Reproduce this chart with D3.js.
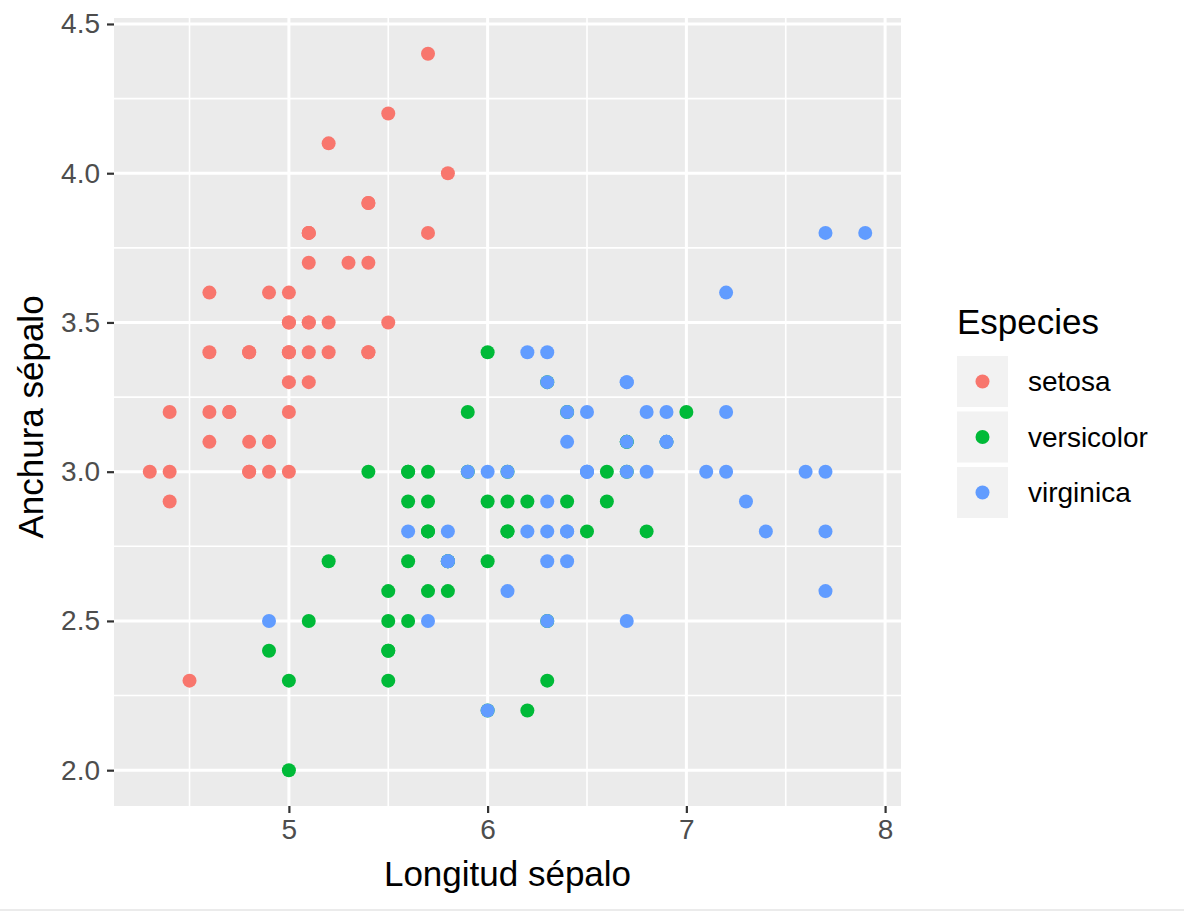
<!DOCTYPE html>
<html>
<head>
<meta charset="utf-8">
<script src="https://cdn.jsdelivr.net/npm/d3@7"></script>
<style>
  html, body { margin: 0; padding: 0; background: #ffffff; }
  svg { display: block; font-family: "Liberation Sans", Arial, Helvetica, sans-serif; }
</style>
</head>
<body>
<svg id="chart" width="1184" height="911"></svg>
<script>
// ---- Data (iris: Sepal.Length, Sepal.Width) ----
const speciesNames = ["setosa", "versicolor", "virginica"];
const speciesColors = ["#F8766D", "#00BA38", "#619CFF"];

const setosaLength = [5.1,4.9,4.7,4.6,5.0,5.4,4.6,5.0,4.4,4.9,5.4,4.8,4.8,4.3,5.8,5.7,5.4,5.1,5.7,5.1,5.4,5.1,4.6,5.1,4.8,5.0,5.0,5.2,5.2,4.7,4.8,5.4,5.2,5.5,4.9,5.0,5.5,4.9,4.4,5.1,5.0,4.5,4.4,5.0,5.1,4.8,5.1,4.6,5.3,5.0];
const setosaWidth  = [3.5,3.0,3.2,3.1,3.6,3.9,3.4,3.4,2.9,3.1,3.7,3.4,3.0,3.0,4.0,4.4,3.9,3.5,3.8,3.8,3.4,3.7,3.6,3.3,3.4,3.0,3.4,3.5,3.4,3.2,3.1,3.4,4.1,4.2,3.1,3.2,3.5,3.6,3.0,3.4,3.5,2.3,3.2,3.5,3.8,3.0,3.8,3.2,3.7,3.3];

const versicolorLength = [7.0,6.4,6.9,5.5,6.5,5.7,6.3,4.9,6.6,5.2,5.0,5.9,6.0,6.1,5.6,6.7,5.6,5.8,6.2,5.6,5.9,6.1,6.3,6.1,6.4,6.6,6.8,6.7,6.0,5.7,5.5,5.5,5.8,6.0,5.4,6.0,6.7,6.3,5.6,5.5,5.5,6.1,5.8,5.0,5.6,5.7,5.7,6.2,5.1,5.7];
const versicolorWidth  = [3.2,3.2,3.1,2.3,2.8,2.8,3.3,2.4,2.9,2.7,2.0,3.0,2.2,2.9,2.9,3.1,3.0,2.7,2.2,2.5,3.2,2.8,2.5,2.8,2.9,3.0,2.8,3.0,2.9,2.6,2.4,2.4,2.7,2.7,3.0,3.4,3.1,2.3,3.0,2.5,2.6,3.0,2.6,2.3,2.7,3.0,2.9,2.9,2.5,2.8];

const virginicaLength = [6.3,5.8,7.1,6.3,6.5,7.6,4.9,7.3,6.7,7.2,6.5,6.4,6.8,5.7,5.8,6.4,6.5,7.7,7.7,6.0,6.9,5.6,7.7,6.3,6.7,7.2,6.2,6.1,6.4,7.2,7.4,7.9,6.4,6.3,6.1,7.7,6.3,6.4,6.0,6.9,6.7,6.9,5.8,6.8,6.7,6.7,6.3,6.5,6.2,5.9];
const virginicaWidth  = [3.3,2.7,3.0,2.9,3.0,3.0,2.5,2.9,2.5,3.6,3.2,2.7,3.0,2.5,2.8,3.2,3.0,3.8,2.6,2.2,3.2,2.8,2.8,2.7,3.3,3.2,2.8,3.0,2.8,3.0,2.8,3.8,2.8,2.8,2.6,3.0,3.4,3.1,3.0,3.1,3.1,3.1,2.7,3.2,3.3,3.0,2.5,3.0,3.4,3.0];

const xTicks = [5, 6, 7, 8];
const yTicks = [2.0, 2.5, 3.0, 3.5, 4.0, 4.5];
const xMinor = [4.5, 5.5, 6.5, 7.5];
const yMinor = [2.25, 2.75, 3.25, 3.75, 4.25];

const xTitle = "Longitud sépalo";
const yTitle = "Anchura sépalo";
const legendTitle = "Especies";

// ---- Build records ----
const lengths = [setosaLength, versicolorLength, virginicaLength];
const widths = [setosaWidth, versicolorWidth, virginicaWidth];
const points = [];
speciesNames.forEach((s, i) => {
  lengths[i].forEach((v, j) => points.push({ x: v, y: widths[i][j], s: i }));
});

// ---- Layout ----
const panel = { left: 114, right: 901, top: 18, bottom: 806 };
const svg = d3.select("#chart");

const xMin = d3.min(points, d => d.x), xMax = d3.max(points, d => d.x);
const yMin = d3.min(points, d => d.y), yMax = d3.max(points, d => d.y);
const xPad = (xMax - xMin) * 0.05, yPad = (yMax - yMin) * 0.05;

const x = d3.scaleLinear().domain([xMin - xPad, xMax + xPad]).range([panel.left, panel.right]);
const y = d3.scaleLinear().domain([yMin - yPad, yMax + yPad]).range([panel.bottom, panel.top]);

// Panel background
svg.append("rect")
  .attr("x", panel.left).attr("y", panel.top)
  .attr("width", panel.right - panel.left).attr("height", panel.bottom - panel.top)
  .attr("fill", "#EBEBEB");

const grid = svg.append("g");
// minor grid
grid.selectAll(".xmin").data(xMinor).join("line")
  .attr("x1", d => x(d)).attr("x2", d => x(d))
  .attr("y1", panel.top).attr("y2", panel.bottom)
  .attr("stroke", "#fff").attr("stroke-width", 1.6);
grid.selectAll(".ymin").data(yMinor).join("line")
  .attr("y1", d => y(d)).attr("y2", d => y(d))
  .attr("x1", panel.left).attr("x2", panel.right)
  .attr("stroke", "#fff").attr("stroke-width", 1.6);
// major grid
grid.selectAll(".xmaj").data(xTicks).join("line")
  .attr("x1", d => x(d)).attr("x2", d => x(d))
  .attr("y1", panel.top).attr("y2", panel.bottom)
  .attr("stroke", "#fff").attr("stroke-width", 3);
grid.selectAll(".ymaj").data(yTicks).join("line")
  .attr("y1", d => y(d)).attr("y2", d => y(d))
  .attr("x1", panel.left).attr("x2", panel.right)
  .attr("stroke", "#fff").attr("stroke-width", 3);

// Points
svg.append("g").selectAll("circle").data(points).join("circle")
  .attr("cx", d => x(d.x)).attr("cy", d => y(d.y)).attr("r", 7)
  .attr("fill", d => speciesColors[d.s]);

// Axes
const xAxis = svg.append("g")
  .attr("transform", `translate(0,${panel.bottom})`)
  .call(d3.axisBottom(x).tickValues(xTicks).tickSize(7).tickPadding(6).tickFormat(d3.format("d")));
const yAxis = svg.append("g")
  .attr("transform", `translate(${panel.left},0)`)
  .call(d3.axisLeft(y).tickValues(yTicks).tickSize(7).tickPadding(7).tickFormat(d3.format(".1f")));
[xAxis, yAxis].forEach(a => {
  a.select(".domain").remove();
  a.selectAll(".tick line").attr("stroke", "#333333").attr("stroke-width", 2.2);
  a.selectAll(".tick text").attr("fill", "#4D4D4D").attr("font-size", 28)
    .attr("font-family", "'Liberation Sans', Arial, sans-serif");
});

// Axis titles
svg.append("text")
  .attr("x", (panel.left + panel.right) / 2).attr("y", 886)
  .attr("text-anchor", "middle").attr("font-size", 35).attr("fill", "#000")
  .text(xTitle);
svg.append("text")
  .attr("transform", `translate(43,${(panel.top + panel.bottom) / 2 + 5}) rotate(-90)`)
  .attr("text-anchor", "middle").attr("font-size", 35).attr("fill", "#000")
  .text(yTitle);

// Legend
const legend = svg.append("g");
legend.append("text").attr("x", 957).attr("y", 334)
  .attr("font-size", 35).attr("fill", "#000").text(legendTitle);
const keys = legend.selectAll(".key").data(speciesNames).join("g")
  .attr("transform", (d, i) => `translate(957,${356 + i * 55.5})`);
keys.append("rect").attr("width", 51).attr("height", 51).attr("fill", "#F2F2F2");
keys.append("circle").attr("cx", 25.5).attr("cy", 25.5).attr("r", 7)
  .attr("fill", (d, i) => speciesColors[i]);
keys.append("text").attr("x", 71).attr("y", 25.5).attr("dy", "0.35em")
  .attr("font-size", 28).attr("fill", "#000").text(d => d);

// bottom border line
svg.append("rect").attr("x", 0).attr("y", 909).attr("width", 1184).attr("height", 2).attr("fill", "#EBEBEB");
</script>
</body>
</html>
